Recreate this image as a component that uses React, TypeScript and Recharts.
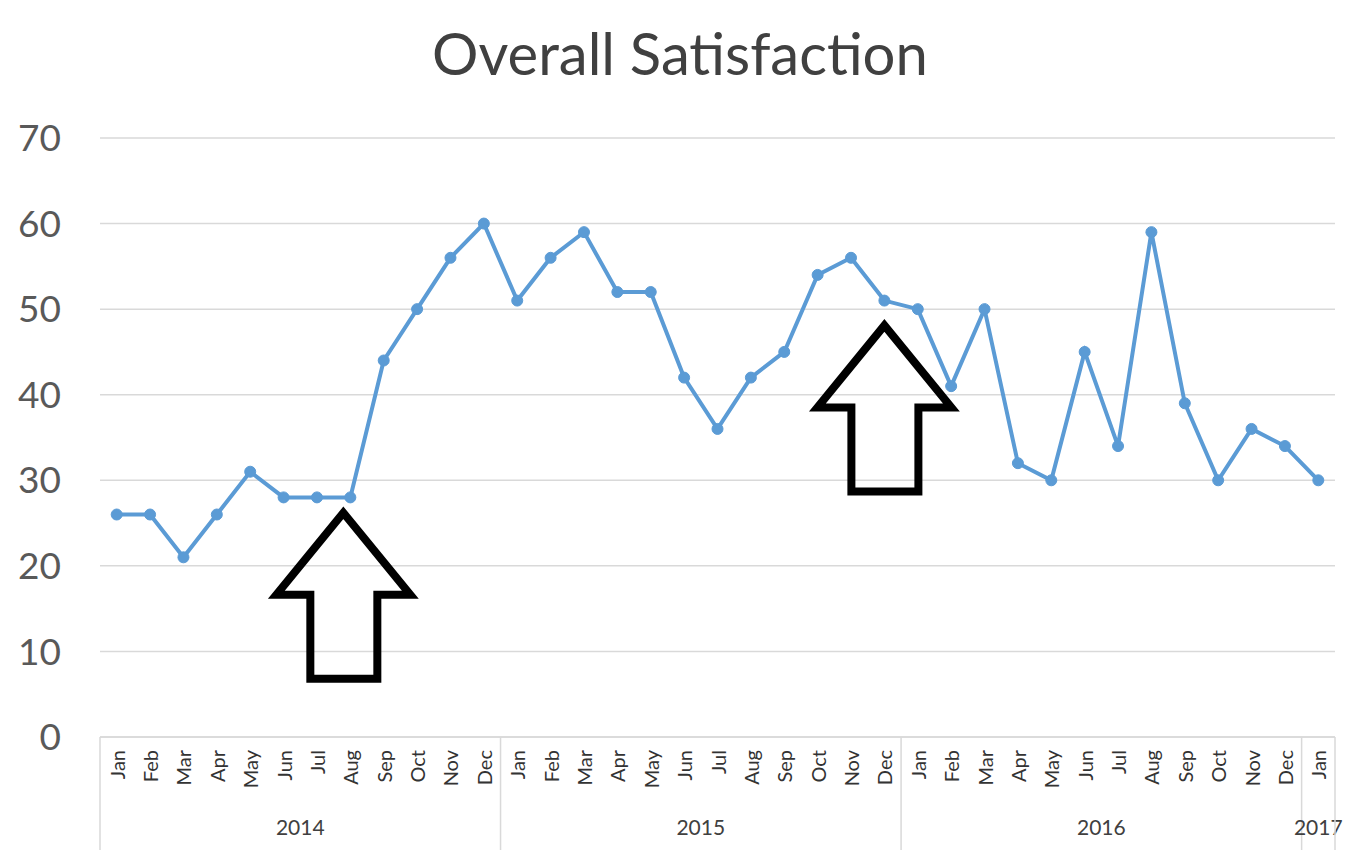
import React from "react";
import {
  LineChart,
  Line,
  XAxis,
  YAxis,
  CartesianGrid,
  ReferenceDot,
} from "recharts";

// Month names and the years they belong to
const monthNames = ["Jan", "Feb", "Mar", "Apr", "May", "Jun", "Jul", "Aug", "Sep", "Oct", "Nov", "Dec"];
const years = ["2014", "2015", "2016", "2017"];
const monthsPerYear = [12, 12, 12, 1];

// Overall satisfaction score per month, Jan 2014 - Jan 2017
const satisfaction = [
  26, 26, 21, 26, 31, 28, 28, 28, 44, 50, 56, 60,
  51, 56, 59, 52, 52, 42, 36, 42, 45, 54, 56, 51,
  50, 41, 50, 32, 30, 45, 34, 59, 39, 30, 36, 34,
  30,
];

const yTicks = [0, 10, 20, 30, 40, 50, 60, 70];

// Arrow annotations: which month they point at and the value at the tip
const arrowMonths = ["Aug-2014", "Dec-2015"];
const arrowTips = [26.2, 48.1];

// Build the table Recharts needs
const data: { key: string; month: string; year: string; value: number }[] = [];
years.forEach((year, yi) => {
  for (let m = 0; m < monthsPerYear[yi]; m++) {
    data.push({ key: `${monthNames[m]}-${year}`, month: monthNames[m], year, value: satisfaction[data.length] });
  }
});

const W = 1352;
const H = 850;
const M = { top: 138, right: 17, left: 0, bottom: 0 };
const Y_AXIS_W = 100;
const X_AXIS_H = 113;
const PLOT_BOTTOM = H - X_AXIS_H;
const BAND = (W - M.left - M.right - Y_AXIS_W) / data.length;

const FONT = "Lato, 'Open Sans', sans-serif";
const GRID = "#d9d9d9";

// Two-level category tick: rotated month name, year separators and year label
const MonthTick = (props: any) => {
  const { payload, index } = props;
  const x = payload.coordinate;
  const row = data[index];
  const left = x - BAND / 2;
  const parts: React.ReactNode[] = [];
  const top = PLOT_BOTTOM + 13;

  parts.push(
    <text
      key="m"
      x={x}
      y={top}
      transform={`rotate(-90, ${x}, ${top})`}
      textAnchor="end"
      dominantBaseline="central"
      fontSize={20}
      fill="#333333"
      fontFamily={FONT}
    >
      {row.month}
    </text>
  );

  // first month of a year: separator line and the year label centred on its span
  if (row.month === "Jan") {
    const yi = years.indexOf(row.year);
    const span = monthsPerYear[yi] * BAND;
    parts.push(<line key="s" x1={left} x2={left} y1={PLOT_BOTTOM} y2={H} stroke={GRID} strokeWidth={1.5} />);
    parts.push(
      <text
        key="y"
        x={left + span / 2}
        y={PLOT_BOTTOM + 98}
        textAnchor="middle"
        fontSize={21}
        fill="#404040"
        fontFamily={FONT}
      >
        {row.year}
      </text>
    );
  }
  if (index === data.length - 1) {
    const right = x + BAND / 2;
    parts.push(<line key="e" x1={right} x2={right} y1={PLOT_BOTTOM} y2={H} stroke={GRID} strokeWidth={1.5} />);
  }
  return <g>{parts}</g>;
};

// Hollow block arrow with its tip at (cx, cy)
const arrowShape = (dx: number) => (props: any) => {
  const { cx, cy } = props;
  const x = cx + dx;
  const pts = [
    [x, cy],
    [x + 67, cy + 82],
    [x + 34, cy + 82],
    [x + 34, cy + 166],
    [x - 33, cy + 166],
    [x - 33, cy + 82],
    [x - 67, cy + 82],
  ]
    .map((p) => p.join(","))
    .join(" ");
  return <polygon points={pts} fill="none" stroke="#000" strokeWidth={8} strokeLinejoin="miter" />;
};

const App: React.FC = () => {
  return (
    <div style={{ position: "absolute", left: 0, top: 0, width: W, height: H, background: "#fff" }}>
      <div
        style={{
          position: "absolute",
          left: 0,
          top: 18,
          width: W + 8,
          textAlign: "center",
          fontFamily: FONT,
          fontSize: 58,
          lineHeight: "70px",
          color: "#404040",
        }}
      >
        Overall Satisfaction
      </div>
      <LineChart width={W} height={H} data={data} margin={M}>
        <CartesianGrid vertical={false} stroke={GRID} strokeWidth={1.5} />
        <XAxis
          dataKey="key"
          interval={0}
          height={X_AXIS_H}
          padding={{ left: BAND / 2, right: BAND / 2 }}
          tickLine={false}
          axisLine={{ stroke: GRID, strokeWidth: 1.5 }}
          tick={<MonthTick />}
        />
        <YAxis
          width={Y_AXIS_W}
          domain={[0, 70]}
          ticks={yTicks}
          axisLine={false}
          tickLine={false}
          tickMargin={33}
          tick={{ fontSize: 37, fill: "#595959", fontFamily: FONT }}
        />
        <Line
          type="linear"
          dataKey="value"
          stroke="#5b9bd5"
          strokeWidth={4}
          dot={{ r: 5.5, fill: "#5b9bd5", stroke: "#5b9bd5", strokeWidth: 1 }}
          isAnimationActive={false}
        />
        <ReferenceDot x={arrowMonths[0]} y={arrowTips[0]} shape={arrowShape(-7)} />
        <ReferenceDot x={arrowMonths[1]} y={arrowTips[1]} shape={arrowShape(0)} />
      </LineChart>
    </div>
  );
};

export default App;
